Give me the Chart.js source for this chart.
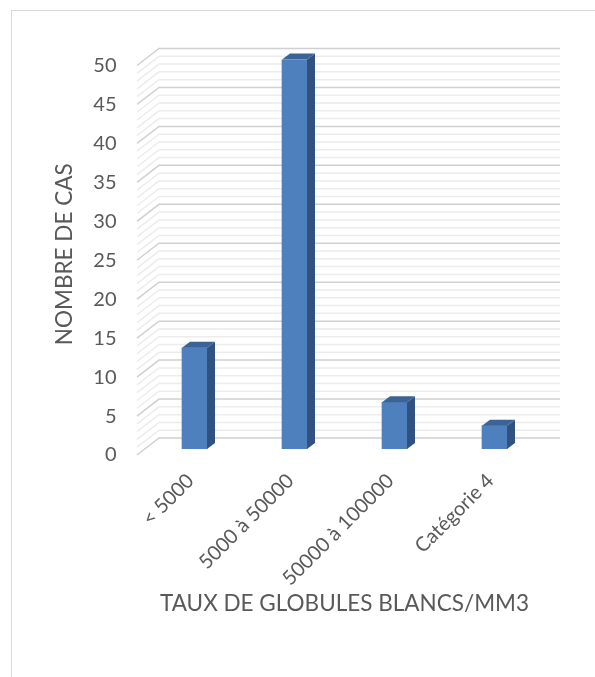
<!DOCTYPE html>
<html>
<head>
<meta charset="utf-8">
<script src="https://cdn.jsdelivr.net/npm/chart.js@4.4.0/dist/chart.umd.min.js"></script>
<style>
  html, body { margin: 0; padding: 0; background: #fff; overflow: hidden; }
  #frame {
    position: absolute; left: 11px; top: 10px; width: 700px; height: 800px;
    border-left: 1px solid #d9d9d9; border-top: 1px solid #d9d9d9;
  }
  #chart { position: absolute; left: 0; top: 0; }
</style>
</head>
<body>
<div id="frame"></div>
<canvas id="chart" width="595" height="677"></canvas>
<script>
const categories = ['< 5000', '5000 à 50000', '50000 à 100000', 'Catégorie 4'];
const cases = [13, 50, 6, 3];
const yTickValues = [0, 5, 10, 15, 20, 25, 30, 35, 40, 45, 50];

const TEXT = '#595959';
const FONT = 'Lato, "Open Sans", sans-serif';
const TICK_SIZE = 20;
const TITLE_SIZE = 22.5;

// depth of the side wall and of each bar (px)
const WALL_DX = 22, WALL_DY = 17;
const BAR_DX = 8, BAR_DY = 6;

// back wall + left side wall, one line per unit, darker every 5
const walls = {
  id: 'walls',
  beforeDatasetsDraw(chart) {
    const { ctx, chartArea: a, scales: { y } } = chart;
    const frontX = a.left - 7.5;
    const backX = frontX + WALL_DX;
    const rightX = a.right + 15.5;
    ctx.save();
    ctx.lineWidth = 1.5;
    const line = (v, color) => {
      const py = y.getPixelForValue(v) + 6;
      ctx.strokeStyle = color;
      ctx.beginPath();
      ctx.moveTo(frontX, py);
      ctx.lineTo(backX, py - WALL_DY);
      ctx.lineTo(rightX, py - WALL_DY);
      ctx.stroke();
    };
    for (let v = y.min; v <= y.max; v++) {
      if (!yTickValues.includes(v)) line(v, '#ececec');
    }
    yTickValues.forEach(v => line(v, '#d0d0d0'));
    ctx.restore();
  }
};

// side and top faces of the bars
const bars3d = {
  id: 'bars3d',
  afterDatasetsDraw(chart) {
    const { ctx } = chart;
    chart.getDatasetMeta(0).data.forEach(bar => {
      const { x, y, base, width } = bar.getProps(['x', 'y', 'base', 'width'], true);
      const l = x - width / 2, r = x + width / 2;
      ctx.save();
      ctx.fillStyle = '#2f5280';
      ctx.beginPath();
      ctx.moveTo(r, y);
      ctx.lineTo(r + BAR_DX, y - BAR_DY);
      ctx.lineTo(r + BAR_DX, base - BAR_DY);
      ctx.lineTo(r, base);
      ctx.closePath();
      ctx.fill();
      ctx.fillStyle = '#3b6396';
      ctx.beginPath();
      ctx.moveTo(l, y);
      ctx.lineTo(l + BAR_DX, y - BAR_DY);
      ctx.lineTo(r + BAR_DX, y - BAR_DY);
      ctx.lineTo(r, y);
      ctx.closePath();
      ctx.fill();
      ctx.restore();
    });
  }
};

new Chart(document.getElementById('chart'), {
  type: 'bar',
  data: {
    labels: categories,
    datasets: [{
      data: cases,
      backgroundColor: '#4e80bd',
      barThickness: 25
    }]
  },
  options: {
    responsive: false,
    animation: false,
    layout: { padding: { left: 0, right: 50.5, top: 59.5, bottom: 0 } },
    plugins: { legend: { display: false }, tooltip: { enabled: false } },
    scales: {
      x: {
        grid: { display: false, drawTicks: false },
        border: { display: false },
        ticks: {
          color: TEXT, font: { family: FONT, size: TICK_SIZE },
          minRotation: 45, maxRotation: 45, padding: 20, labelOffset: -4
        },
        title: {
          display: true, text: 'TAUX DE GLOBULES BLANCS/MM3', color: TEXT,
          font: { family: FONT, size: TITLE_SIZE }, padding: { top: 0, bottom: 59.5 }
        },
        afterFit(scale) { scale.height = 228; }
      },
      y: {
        min: 0, max: 50,
        grid: { display: false, drawTicks: false },
        border: { display: false },
        afterBuildTicks(scale) { scale.ticks = yTickValues.map(v => ({ value: v })); },
        ticks: {
          color: TEXT, font: { family: FONT, size: TICK_SIZE },
          padding: 28, labelOffset: 6
        },
        title: {
          display: true, text: 'NOMBRE DE CAS', color: TEXT,
          font: { family: FONT, size: TITLE_SIZE }, padding: { top: 51.5, bottom: 0 }
        },
        afterFit(scale) { scale.width = 144.5; }
      }
    }
  },
  plugins: [walls, bars3d]
});
</script>
</body>
</html>
